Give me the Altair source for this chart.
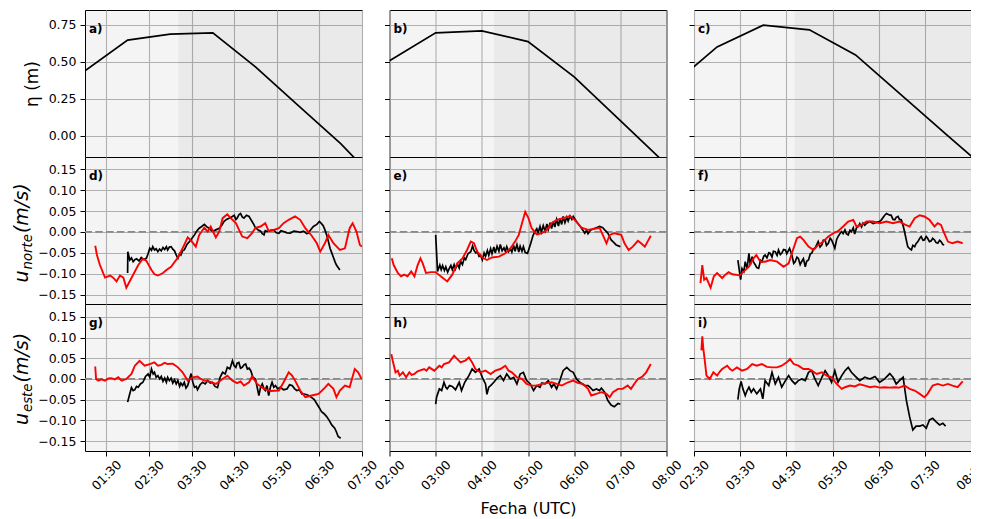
import altair as alt
import pandas as pd

W, H = 277, 147

# ---- time axes (decimal hours, UTC) ----
x_domains = [[1.0, 7.5], [2.0, 8.0], [2.5, 8.5]]
x_ticks = [[1.5, 2.5, 3.5, 4.5, 5.5, 6.5, 7.5],
           [2, 3, 4, 5, 6, 7, 8],
           [2.5, 3.5, 4.5, 5.5, 6.5, 7.5, 8.5]]
shade_start = [3.19, 4.26, 4.68]

# ---- y axes ----
y_domains = [[-0.142, 0.85], [-0.172, 0.179], [-0.174, 0.181]]
eta_ticks = [0, 0.25, 0.5, 0.75]
u_ticks = [-0.15, -0.1, -0.05, 0, 0.05, 0.1, 0.15]
eta_title = "η (m)"
u_subscripts = ["norte", "este"]
panel_labels = [["a)", "b)", "c)"], ["d)", "e)", "f)"], ["g)", "h)", "i)"]]

# ---- sea level η (m) ----
eta_a = [(1, 0.44), (2, 0.647), (3, 0.687), (4, 0.696), (5, 0.466), (6, 0.207), (7, -0.052), (8, -0.35)]
eta_b = [(2, 0.507), (3, 0.696), (4, 0.709), (5, 0.637), (6, 0.399), (7, 0.103), (8, -0.193)]
eta_c = [(2, 0.335), (3, 0.601), (4, 0.748), (5, 0.716), (6, 0.547), (7, 0.274), (8, 0.001), (9, -0.27)]

# ---- u_norte ----
d_red = [(1.24,-0.033),(1.28,-0.055),(1.35,-0.079),(1.47,-0.109),(1.59,-0.104),(1.66,-0.109),(1.74,-0.118),(1.82,-0.104),(1.90,-0.109),(1.97,-0.133),(2.09,-0.110),(2.25,-0.079),(2.36,-0.064),(2.44,-0.069),(2.56,-0.091),(2.63,-0.101),(2.71,-0.104),(2.83,-0.098),(2.91,-0.091),(3.02,-0.083),(3.18,-0.061),(3.29,-0.039),(3.41,-0.013),(3.49,-0.021),(3.60,-0.035),(3.68,-0.007),(3.80,0.010),(3.88,0.001),(3.95,0.013),(4.07,-0.013),(4.15,0.001),(4.23,0.033),(4.34,0.042),(4.42,0.033),(4.54,0.021),(4.69,-0.011),(4.81,-0.015),(4.92,-0.003),(5.00,0.010),(5.12,0.013),(5.23,0.021),(5.31,0.002),(5.43,0.005),(5.55,0.009),(5.66,0.021),(5.78,0.029),(5.93,0.037),(6.05,0.029),(6.17,0.009),(6.32,-0.009),(6.44,-0.027),(6.52,-0.047),(6.63,-0.027),(6.71,-0.007),(6.83,-0.027),(6.98,-0.043),(7.10,-0.039),(7.21,0.009),(7.28,0.021),(7.37,0.001),(7.45,-0.031),(7.50,-0.035)]
d_black = [(2.00,-0.098),(2.005,-0.047),(2.05,-0.067),(2.09,-0.062),(2.13,-0.071),(2.17,-0.066),(2.21,-0.064),(2.27,-0.069),(2.32,-0.061),(2.38,-0.066),(2.44,-0.063),(2.48,-0.052),(2.52,-0.039),(2.56,-0.044),(2.59,-0.035),(2.63,-0.043),(2.67,-0.040),(2.71,-0.047),(2.75,-0.041),(2.79,-0.045),(2.83,-0.037),(2.87,-0.042),(2.91,-0.035),(2.94,-0.043),(2.98,-0.036),(3.02,-0.035),(3.06,-0.041),(3.10,-0.045),(3.14,-0.055),(3.18,-0.063),(3.22,-0.052),(3.25,-0.055),(3.29,-0.045),(3.33,-0.043),(3.39,-0.030),(3.45,-0.023),(3.51,-0.015),(3.57,-0.007),(3.62,0.002),(3.68,0.009),(3.74,0.013),(3.80,0.018),(3.86,0.012),(3.91,0.009),(3.99,0.001),(4.07,0.005),(4.15,0.009),(4.21,0.016),(4.26,0.025),(4.32,0.030),(4.38,0.033),(4.44,0.036),(4.50,0.040),(4.54,0.030),(4.57,0.033),(4.61,0.041),(4.65,0.044),(4.69,0.036),(4.73,0.033),(4.79,0.040),(4.85,0.037),(4.89,0.030),(4.92,0.025),(4.96,0.018),(5.00,0.010),(5.06,0.005),(5.12,0.002),(5.16,-0.004),(5.20,-0.007),(5.23,0.003),(5.27,0.001),(5.35,0.004),(5.43,0.005),(5.49,-0.002),(5.55,-0.003),(5.60,0.003),(5.66,0.001),(5.74,-0.002),(5.82,-0.003),(5.90,0.002),(5.97,0.001),(6.05,-0.001),(6.13,0.002),(6.20,-0.004),(6.24,-0.003),(6.30,0.006),(6.36,0.013),(6.44,0.018),(6.50,0.025),(6.55,0.020),(6.59,0.015),(6.63,0.005),(6.67,-0.007),(6.71,-0.022),(6.75,-0.039),(6.79,-0.050),(6.83,-0.061),(6.87,-0.072),(6.90,-0.079),(6.94,-0.085),(6.98,-0.091)]
e_red = [(2.05,-0.063),(2.09,-0.079),(2.18,-0.098),(2.25,-0.106),(2.32,-0.102),(2.39,-0.106),(2.47,-0.094),(2.54,-0.106),(2.61,-0.079),(2.67,-0.063),(2.72,-0.075),(2.79,-0.098),(2.90,-0.096),(3.00,-0.096),(3.11,-0.106),(3.25,-0.118),(3.36,-0.102),(3.47,-0.075),(3.58,-0.063),(3.68,-0.043),(3.76,-0.023),(3.83,-0.027),(3.90,-0.047),(4.01,-0.061),(4.11,-0.067),(4.22,-0.061),(4.37,-0.059),(4.51,-0.051),(4.62,-0.039),(4.72,-0.023),(4.80,-0.007),(4.87,0.021),(4.94,0.048),(5.01,0.033),(5.08,0.009),(5.19,-0.006),(5.30,-0.003),(5.41,0.005),(5.51,0.021),(5.62,0.029),(5.76,0.033),(5.91,0.038),(6.01,0.029),(6.16,0.010),(6.30,0.005),(6.41,0.007),(6.55,0.010),(6.62,-0.007),(6.70,-0.027),(6.77,-0.007),(6.87,-0.003),(7.02,-0.007),(7.09,-0.027),(7.18,-0.043),(7.27,-0.035),(7.38,-0.021),(7.45,-0.027),(7.53,-0.035),(7.59,-0.023),(7.66,-0.009)]
e_black = [(3.00,-0.007),(3.04,-0.094),(3.09,-0.079),(3.12,-0.090),(3.15,-0.080),(3.19,-0.092),(3.22,-0.083),(3.26,-0.096),(3.29,-0.088),(3.33,-0.080),(3.36,-0.090),(3.40,-0.078),(3.43,-0.088),(3.47,-0.076),(3.51,-0.086),(3.54,-0.070),(3.58,-0.078),(3.62,-0.062),(3.65,-0.066),(3.70,-0.052),(3.76,-0.047),(3.80,-0.033),(3.83,-0.044),(3.87,-0.050),(3.90,-0.047),(3.94,-0.058),(3.97,-0.055),(4.01,-0.067),(4.05,-0.050),(4.08,-0.058),(4.12,-0.044),(4.15,-0.056),(4.19,-0.040),(4.22,-0.052),(4.26,-0.036),(4.29,-0.050),(4.33,-0.034),(4.37,-0.046),(4.40,-0.030),(4.44,-0.045),(4.48,-0.038),(4.51,-0.046),(4.54,-0.035),(4.58,-0.047),(4.62,-0.040),(4.65,-0.048),(4.69,-0.032),(4.72,-0.046),(4.76,-0.030),(4.80,-0.048),(4.83,-0.034),(4.87,-0.046),(4.90,-0.035),(4.94,-0.049),(4.99,-0.051),(5.06,-0.027),(5.11,-0.008),(5.15,0.001),(5.19,0.008),(5.22,-0.002),(5.26,0.013),(5.29,0.000),(5.33,0.015),(5.37,0.002),(5.41,0.019),(5.44,0.006),(5.48,0.022),(5.51,0.008),(5.55,0.025),(5.58,0.012),(5.62,0.030),(5.66,0.014),(5.69,0.032),(5.73,0.018),(5.76,0.037),(5.80,0.022),(5.84,0.035),(5.87,0.026),(5.91,0.038),(5.95,0.030),(5.98,0.037),(6.05,0.025),(6.12,0.015),(6.16,0.009),(6.23,-0.003),(6.27,0.004),(6.30,-0.004),(6.35,0.004),(6.41,0.007),(6.48,0.010),(6.55,0.013),(6.62,0.010),(6.66,0.005),(6.70,0.001),(6.73,-0.003),(6.77,-0.012),(6.80,-0.019),(6.84,-0.023),(6.91,-0.031),(7.00,-0.035)]
f_red = [(2.64,-0.122),(2.68,-0.079),(2.72,-0.114),(2.77,-0.110),(2.86,-0.133),(2.93,-0.106),(3.00,-0.098),(3.11,-0.110),(3.18,-0.102),(3.25,-0.096),(3.33,-0.101),(3.40,-0.102),(3.49,-0.104),(3.58,-0.094),(3.69,-0.083),(3.79,-0.063),(3.85,-0.055),(3.94,-0.071),(4.04,-0.071),(4.15,-0.067),(4.30,-0.071),(4.44,-0.083),(4.55,-0.075),(4.62,-0.051),(4.73,-0.015),(4.80,-0.011),(4.87,-0.019),(4.98,-0.035),(5.09,-0.043),(5.19,-0.031),(5.30,-0.023),(5.41,-0.011),(5.52,-0.003),(5.62,0.002),(5.73,0.013),(5.84,0.025),(5.95,0.029),(6.02,0.013),(6.13,0.017),(6.24,0.025),(6.38,0.025),(6.52,0.021),(6.67,0.025),(6.81,0.021),(6.95,0.025),(7.06,0.018),(7.17,0.013),(7.28,0.033),(7.39,0.040),(7.49,0.037),(7.60,0.029),(7.71,0.013),(7.78,0.021),(7.85,0.017),(7.92,-0.003),(8.00,-0.023),(8.10,-0.027),(8.21,-0.023),(8.32,-0.027)]
f_black = [(3.45,-0.067),(3.51,-0.114),(3.54,-0.087),(3.58,-0.094),(3.61,-0.071),(3.65,-0.087),(3.69,-0.051),(3.72,-0.079),(3.76,-0.059),(3.79,-0.072),(3.83,-0.079),(3.86,-0.085),(3.90,-0.087),(3.94,-0.068),(3.97,-0.071),(4.01,-0.058),(4.04,-0.055),(4.08,-0.062),(4.12,-0.050),(4.15,-0.051),(4.19,-0.060),(4.22,-0.046),(4.26,-0.047),(4.30,-0.056),(4.33,-0.043),(4.37,-0.054),(4.40,-0.051),(4.44,-0.042),(4.48,-0.043),(4.51,-0.052),(4.57,-0.039),(4.62,-0.055),(4.66,-0.075),(4.69,-0.071),(4.73,-0.060),(4.76,-0.063),(4.80,-0.078),(4.83,-0.071),(4.87,-0.064),(4.91,-0.083),(4.94,-0.070),(4.98,-0.067),(5.02,-0.052),(5.05,-0.051),(5.09,-0.040),(5.12,-0.039),(5.16,-0.030),(5.19,-0.023),(5.23,-0.036),(5.27,-0.031),(5.30,-0.020),(5.34,-0.019),(5.37,-0.032),(5.41,-0.027),(5.45,-0.015),(5.48,-0.019),(5.52,-0.030),(5.55,-0.039),(5.59,-0.018),(5.62,-0.011),(5.66,-0.004),(5.70,0.001),(5.73,-0.004),(5.77,0.005),(5.80,-0.004),(5.84,-0.007),(5.88,0.004),(5.91,0.001),(5.95,0.010),(5.98,-0.005),(6.02,0.010),(6.06,0.013),(6.09,0.020),(6.13,0.012),(6.16,0.021),(6.20,0.016),(6.24,0.021),(6.31,0.025),(6.38,0.020),(6.45,0.023),(6.52,0.025),(6.56,0.029),(6.63,0.040),(6.67,0.044),(6.74,0.040),(6.77,0.040),(6.81,0.030),(6.85,0.029),(6.88,0.035),(6.92,0.037),(6.95,0.030),(6.99,0.029),(7.03,0.015),(7.06,0.001),(7.10,-0.020),(7.13,-0.035),(7.17,-0.040),(7.21,-0.043),(7.24,-0.032),(7.28,-0.035),(7.31,-0.028),(7.35,-0.023),(7.39,-0.015),(7.42,-0.011),(7.46,-0.020),(7.49,-0.019),(7.53,-0.011),(7.56,-0.015),(7.60,-0.023),(7.64,-0.021),(7.67,-0.015),(7.71,-0.019),(7.74,-0.025),(7.78,-0.027),(7.82,-0.020),(7.85,-0.023),(7.89,-0.030),(7.92,-0.031)]

# ---- u_este ----
g_red = [(1.24,0.030),(1.26,0.000),(1.31,-0.004),(1.39,-0.001),(1.47,-0.004),(1.55,0.001),(1.62,0.002),(1.70,-0.001),(1.78,0.004),(1.86,-0.004),(1.97,0.000),(2.09,0.012),(2.17,0.032),(2.28,0.044),(2.40,0.032),(2.52,0.036),(2.63,0.040),(2.71,0.032),(2.79,0.034),(2.87,0.039),(2.94,0.036),(3.06,0.037),(3.18,0.028),(3.29,0.016),(3.41,-0.004),(3.53,0.004),(3.64,0.006),(3.72,0.000),(3.80,-0.004),(3.91,-0.006),(4.07,-0.012),(4.23,0.000),(4.34,0.008),(4.46,-0.004),(4.57,-0.010),(4.65,-0.006),(4.73,-0.016),(4.85,-0.008),(4.92,0.006),(5.04,-0.012),(5.20,-0.024),(5.35,-0.029),(5.55,-0.028),(5.66,-0.008),(5.78,0.016),(5.86,0.008),(5.93,-0.004),(6.05,-0.028),(6.17,-0.044),(6.32,-0.040),(6.48,-0.036),(6.63,-0.021),(6.71,-0.012),(6.83,-0.024),(6.90,-0.044),(6.98,-0.028),(7.10,-0.016),(7.21,-0.020),(7.33,0.024),(7.41,0.016),(7.49,0.000)]
g_black = [(2.00,-0.056),(2.04,-0.040),(2.09,-0.021),(2.13,-0.028),(2.17,-0.026),(2.21,-0.018),(2.25,-0.020),(2.30,-0.012),(2.36,-0.008),(2.42,0.006),(2.48,0.012),(2.52,0.004),(2.56,0.024),(2.60,0.012),(2.63,0.016),(2.67,0.004),(2.71,0.008),(2.75,0.000),(2.79,0.006),(2.83,-0.006),(2.87,0.002),(2.91,-0.008),(2.94,0.004),(2.98,-0.004),(3.02,0.002),(3.06,-0.010),(3.10,-0.002),(3.14,-0.012),(3.18,-0.004),(3.22,-0.018),(3.25,-0.010),(3.29,-0.016),(3.33,-0.008),(3.37,-0.022),(3.41,-0.016),(3.45,-0.002),(3.49,0.013),(3.53,-0.008),(3.57,-0.020),(3.61,-0.018),(3.64,-0.026),(3.70,-0.014),(3.76,-0.008),(3.82,-0.012),(3.88,-0.004),(3.94,-0.010),(3.99,-0.008),(4.05,-0.018),(4.11,-0.021),(4.17,0.004),(4.23,0.016),(4.29,0.012),(4.34,0.028),(4.40,0.024),(4.46,0.044),(4.50,0.032),(4.54,0.028),(4.57,0.038),(4.61,0.040),(4.65,0.026),(4.69,0.028),(4.73,0.034),(4.77,0.036),(4.81,0.024),(4.85,0.026),(4.89,0.020),(4.94,0.004),(5.00,0.000),(5.04,-0.020),(5.08,-0.040),(5.12,-0.020),(5.16,-0.012),(5.20,-0.024),(5.23,-0.028),(5.27,-0.016),(5.31,-0.040),(5.35,-0.020),(5.39,-0.008),(5.43,-0.020),(5.47,-0.016),(5.52,-0.024),(5.58,-0.020),(5.66,-0.026),(5.74,-0.024),(5.80,-0.014),(5.86,-0.016),(5.92,-0.024),(5.97,-0.028),(6.03,-0.026),(6.09,-0.036),(6.17,-0.037),(6.25,-0.040),(6.32,-0.045),(6.38,-0.050),(6.44,-0.060),(6.50,-0.070),(6.55,-0.079),(6.61,-0.084),(6.67,-0.091),(6.73,-0.100),(6.79,-0.111),(6.86,-0.119),(6.90,-0.128),(6.94,-0.139),(7.00,-0.143)]
h_red = [(2.04,0.060),(2.07,0.044),(2.13,0.016),(2.18,0.020),(2.22,0.008),(2.29,0.016),(2.36,0.004),(2.43,0.016),(2.48,0.010),(2.54,0.012),(2.60,0.018),(2.65,0.020),(2.75,0.024),(2.80,0.020),(2.86,0.028),(2.97,0.020),(3.08,0.032),(3.13,0.028),(3.18,0.036),(3.29,0.040),(3.40,0.056),(3.47,0.048),(3.54,0.040),(3.65,0.045),(3.72,0.052),(3.79,0.040),(3.86,0.024),(3.97,0.016),(4.08,0.020),(4.19,0.012),(4.29,0.020),(4.40,0.024),(4.51,0.032),(4.58,0.020),(4.65,0.016),(4.76,0.004),(4.87,0.000),(4.97,-0.012),(5.08,-0.016),(5.19,-0.016),(5.30,-0.012),(5.41,-0.010),(5.51,-0.008),(5.62,-0.012),(5.73,-0.016),(5.87,-0.008),(5.98,-0.004),(6.09,-0.010),(6.19,-0.012),(6.30,-0.024),(6.37,-0.040),(6.48,-0.036),(6.59,-0.032),(6.70,-0.036),(6.77,-0.044),(6.84,-0.032),(6.95,-0.024),(7.05,-0.024),(7.16,-0.016),(7.23,-0.024),(7.30,-0.012),(7.38,0.000),(7.48,0.006),(7.56,0.016),(7.66,0.036)]
h_black = [(3.00,-0.061),(3.02,-0.044),(3.08,-0.024),(3.13,-0.028),(3.18,-0.008),(3.22,-0.020),(3.25,-0.024),(3.30,-0.016),(3.36,-0.018),(3.43,-0.026),(3.51,-0.008),(3.56,-0.028),(3.63,-0.008),(3.72,0.008),(3.79,0.024),(3.86,0.016),(3.94,0.024),(4.01,0.004),(4.08,-0.012),(4.11,-0.037),(4.15,-0.020),(4.19,-0.016),(4.26,-0.008),(4.33,0.002),(4.40,0.008),(4.47,-0.004),(4.54,0.012),(4.62,0.000),(4.69,0.004),(4.76,-0.012),(4.83,0.012),(4.90,0.016),(4.97,-0.004),(5.05,-0.012),(5.12,-0.028),(5.19,-0.016),(5.26,-0.020),(5.30,-0.010),(5.37,-0.012),(5.44,-0.004),(5.51,-0.020),(5.56,-0.012),(5.62,-0.024),(5.69,-0.004),(5.76,0.020),(5.84,0.028),(5.91,0.020),(5.98,0.016),(6.05,0.000),(6.12,-0.008),(6.23,-0.016),(6.30,-0.016),(6.34,-0.020),(6.41,-0.028),(6.48,-0.024),(6.55,-0.028),(6.59,-0.022),(6.66,-0.032),(6.73,-0.052),(6.80,-0.063),(6.87,-0.067),(6.95,-0.059),(7.00,-0.061)]
i_red = [(2.66,0.069),(2.68,0.103),(2.70,0.075),(2.73,0.048),(2.77,0.008),(2.84,0.000),(2.92,0.016),(3.00,0.008),(3.06,0.018),(3.11,0.024),(3.22,0.032),(3.28,0.024),(3.33,0.020),(3.43,0.028),(3.54,0.020),(3.65,0.024),(3.76,0.036),(3.86,0.032),(3.97,0.036),(4.08,0.029),(4.19,0.028),(4.30,0.028),(4.40,0.032),(4.51,0.040),(4.58,0.048),(4.66,0.036),(4.76,0.032),(4.87,0.024),(4.98,0.024),(5.05,0.020),(5.16,0.012),(5.27,0.016),(5.37,0.008),(5.48,0.004),(5.59,-0.012),(5.70,-0.024),(5.77,-0.020),(5.88,-0.016),(5.98,-0.018),(6.09,-0.013),(6.20,-0.016),(6.31,-0.020),(6.42,-0.018),(6.52,-0.021),(6.63,-0.020),(6.74,-0.021),(6.85,-0.020),(6.95,-0.021),(7.06,-0.016),(7.17,-0.024),(7.28,-0.028),(7.39,-0.036),(7.49,-0.044),(7.56,-0.036),(7.67,-0.016),(7.78,-0.012),(7.89,-0.016),(8.00,-0.012),(8.10,-0.016),(8.21,-0.020),(8.32,-0.006)]
i_black = [(3.45,-0.050),(3.48,-0.024),(3.52,-0.006),(3.56,-0.024),(3.61,-0.040),(3.65,-0.028),(3.69,-0.020),(3.74,-0.032),(3.79,-0.024),(3.86,-0.036),(3.94,-0.024),(3.99,-0.048),(4.04,-0.004),(4.12,-0.016),(4.19,0.016),(4.26,-0.012),(4.33,0.004),(4.40,-0.020),(4.48,-0.004),(4.55,0.008),(4.62,-0.004),(4.69,-0.012),(4.76,-0.004),(4.83,0.000),(4.91,-0.004),(4.98,0.016),(5.05,0.020),(5.12,0.000),(5.19,-0.016),(5.27,0.004),(5.34,0.020),(5.41,0.008),(5.48,-0.008),(5.55,0.020),(5.62,-0.008),(5.70,0.008),(5.77,0.020),(5.84,0.028),(5.91,0.016),(5.98,0.008),(6.09,-0.004),(6.20,0.004),(6.31,0.000),(6.42,0.006),(6.52,-0.008),(6.63,0.000),(6.74,0.013),(6.81,0.004),(6.88,-0.012),(6.95,-0.004),(7.03,0.004),(7.06,-0.020),(7.10,-0.052),(7.17,-0.091),(7.24,-0.123),(7.31,-0.114),(7.39,-0.114),(7.46,-0.111),(7.53,-0.119),(7.60,-0.099),(7.67,-0.095),(7.74,-0.103),(7.82,-0.111),(7.89,-0.107),(7.95,-0.114)]

black_series = [[eta_a, eta_b, eta_c], [d_black, e_black, f_black], [g_black, h_black, i_black]]
red_series = [[None, None, None], [d_red, e_red, f_red], [g_red, h_red, i_red]]

FONT = "DejaVu Sans"
MAIN_FS, SUB_FS = 19, 13.3


def to_df(pairs):
    return pd.DataFrame(pairs, columns=["t", "v"])


def u_title_layers(sub, center):
    # mathtext-like "u_{sub}(m/s)" written bottom-to-top
    w_u = 0.634 * MAIN_FS
    w_sub = {"norte": 2.664, "este": 2.143}[sub] * SUB_FS
    w_ms = 2.61 * MAIN_FS
    total = w_u + 1 + w_sub + 1 + w_ms
    y_u = center + total / 2
    y_sub = y_u - w_u - 1
    y_ms = y_sub - w_sub - 1
    pieces = [("u", MAIN_FS, -57, y_u), (sub, SUB_FS, -53, y_sub), ("(m/s)", MAIN_FS, -57, y_ms)]
    out = []
    for txt, fs, xx, yy in pieces:
        out.append(alt.Chart(pd.DataFrame({"s": [txt]})).mark_text(
            angle=270, align="left", baseline="alphabetic", font=FONT, fontStyle="italic",
            fontSize=fs, color="black").encode(x=alt.value(xx), y=alt.value(yy), text="s:N"))
    return out


def make_panel(r, c):
    bottom = r == 2
    xkw = dict(values=x_ticks[c], grid=True, gridColor="#b0b0b0", gridWidth=1.1,
               domain=False, ticks=bottom, labels=bottom, title=None)
    if bottom:
        xkw.update(tickSize=5, tickColor="black", tickWidth=1,
                   labelExpr="utcFormat(datum.value * 3600000, '%H:%M')",
                   labelAngle=315, labelAlign="center", labelBaseline="middle",
                   labelPadding=19, labelFlush=False, labelOverlap=False,
                   labelFontSize=12.5, labelFont=FONT, labelColor="black")
        if c == 1:
            xkw.update(title="Fecha (UTC)", titleFontSize=16, titleFont=FONT,
                       titleFontWeight="normal", titleColor="black", titlePadding=8)
    X = alt.X("t:Q", scale=alt.Scale(domain=x_domains[c], nice=False, zero=False),
              axis=alt.Axis(**xkw))

    ykw = dict(values=eta_ticks if r == 0 else u_ticks, grid=True, gridColor="#b0b0b0",
               gridWidth=1.1, domain=False, ticks=True, tickSize=5, tickColor="black",
               tickWidth=1, labels=(c == 0), title=None)
    if c == 0:
        ykw.update(format=".2f", labelFontSize=12.5, labelFont=FONT, labelColor="black",
                   labelPadding=4)
        if r == 0:
            ykw.update(title=eta_title, titleFont=FONT, titleColor="black",
                       titleFontWeight="normal", titlePadding=7, titleFontSize=17)
    Y = alt.Y("v:Q", scale=alt.Scale(domain=y_domains[r], nice=False, zero=False),
              axis=alt.Axis(**ykw))

    layers = []
    shade = alt.Chart(pd.DataFrame({"t": [shade_start[c]], "t2": [x_domains[c][1]]})).mark_rect(
        color="black", opacity=0.04).encode(x=X, x2="t2", y=alt.value(0), y2=alt.value(H))
    layers.append(shade)
    if r > 0:
        zero = alt.Chart(pd.DataFrame({"v": [0.0]})).mark_rule(
            color="#8a8a8a", strokeDash=[7.5, 3.3], strokeWidth=1.8).encode(y=Y)
        layers.append(zero)
    blk = alt.Chart(to_df(black_series[r][c])).mark_line(
        color="black", strokeWidth=1.7, clip=True).encode(x=X, y=Y)
    layers.append(blk)
    if red_series[r][c] is not None:
        red = alt.Chart(to_df(red_series[r][c])).mark_line(
            color="#ff0000", strokeWidth=1.9, clip=True).encode(x=X, y=Y)
        layers.append(red)
    lab = alt.Chart(pd.DataFrame({"lab": [panel_labels[r][c]]})).mark_text(
        align="left", baseline="alphabetic", font=FONT, fontWeight="bold", fontSize=12,
        color="black").encode(x=alt.value(4), y=alt.value(23), text="lab:N")
    layers.append(lab)
    if c == 0 and r > 0:
        layers.extend(u_title_layers(u_subscripts[r - 1], 76 if r == 1 else 75))
    return alt.layer(*layers).properties(width=W, height=H)


panels = [make_panel(r, c) for r in range(3) for c in range(3)]

chart = alt.concat(
    *panels, columns=3, spacing=alt.RowColnumber(row=0, column=27.5), bounds="flush"
).properties(
    padding={"left": 4, "top": 1, "right": -18, "bottom": 0}, background="white"
).configure_view(
    fill="#f4f4f4", stroke="black", strokeWidth=1
)

chart.save("out.html", embed_options={"renderer": "svg", "actions": False})
